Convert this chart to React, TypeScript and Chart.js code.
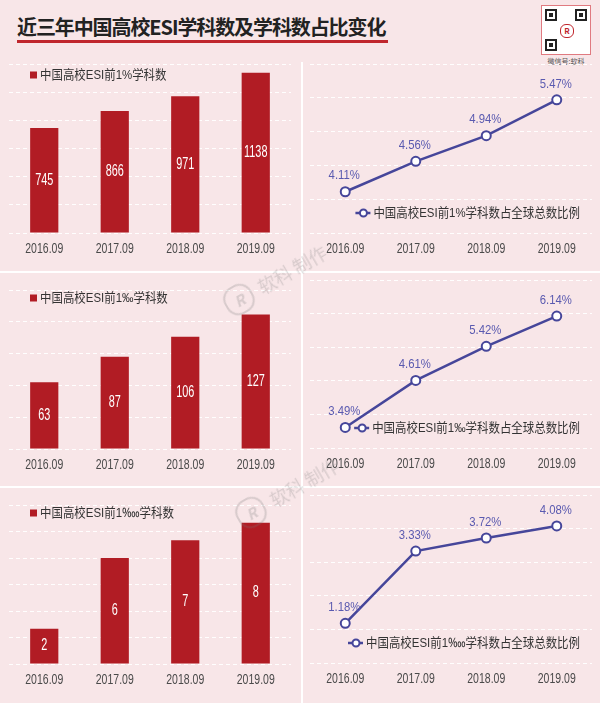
import React, { useEffect, useRef } from 'react';
import { Chart, registerables } from 'chart.js';

Chart.register(...registerables);

// ---------- data ----------
const categories = ['2016.09', '2017.09', '2018.09', '2019.09'];

const top1Counts = [745, 866, 971, 1138];
const top1PermilleCounts = [63, 87, 106, 127];
const top1PermyriadCounts = [2, 6, 7, 8];

const top1Share = [4.11, 4.56, 4.94, 5.47];
const top1PermilleShare = [3.49, 4.61, 5.42, 6.14];
const top1PermyriadShare = [1.18, 3.33, 3.72, 4.08];

const countLabels = ['中国高校ESI前1%学科数', '中国高校ESI前1‰学科数', '中国高校ESI前1‱学科数'];
const shareLabels = [
  '中国高校ESI前1%学科数占全球总数比例',
  '中国高校ESI前1‰学科数占全球总数比例',
  '中国高校ESI前1‱学科数占全球总数比例',
];

const countAxisMin = [0, 0, 0];
const countAxisMax = [1200, 150, 9];
const countAxisStep = [200, 30, 1.5];
const shareAxisMin = [3.5, 3, 0];
const shareAxisMax = [6, 7, 5];
const shareAxisStep = [0.5, 0.8, 1];

// ---------- style ----------
const LATIN = "'Liberation Sans', Arial, 'Noto Sans CJK SC', sans-serif";
const BG = '#f8e6e8';
const BAR = '#b11c24';
const LINE = '#46469a';
const LINE_LABEL = '#5a5ab0';
const GRID = 'rgba(255,255,255,0.95)';

function drawScaled(
  ctx: CanvasRenderingContext2D,
  text: string,
  x: number,
  y: number,
  sx: number,
  align: CanvasTextAlign
) {
  ctx.save();
  ctx.translate(x, y);
  ctx.scale(sx, 1);
  ctx.textAlign = align;
  ctx.textBaseline = 'middle';
  ctx.fillText(text, 0, 0);
  ctx.restore();
}

const overlayPlugin = {
  id: 'overlay',
  afterDatasetsDraw(chart: any, _args: any, opts: any) {
    const ctx = chart.ctx as CanvasRenderingContext2D;
    const meta = chart.getDatasetMeta(0);
    const data = chart.data.datasets[0].data as number[];
    const xScale = chart.scales.x;
    const area = chart.chartArea;
    ctx.save();

    // category labels along the x scale
    ctx.font = `15px ${LATIN}`;
    ctx.fillStyle = '#4a4a4a';
    (chart.data.labels as string[]).forEach((lab, i) => {
      drawScaled(ctx, lab, xScale.getPixelForTick(i), area.bottom + 16, 0.7, 'center');
    });

    if (opts.kind === 'bar') {
      ctx.font = `16px ${LATIN}`;
      ctx.fillStyle = '#ffffff';
      meta.data.forEach((el: any, i: number) => {
        const p = el.getProps(['x', 'y', 'base'], true);
        drawScaled(ctx, String(data[i]), p.x, (p.y + p.base) / 2, 0.68, 'center');
      });
      // legend
      ctx.fillStyle = BAR;
      ctx.fillRect(opts.legendX, opts.legendY - 3.5, 7, 7);
      ctx.fillStyle = '#333';
      ctx.font = `13px ${LATIN}`;
      drawScaled(ctx, opts.label, opts.legendX + 10, opts.legendY, 0.88, 'left');
    } else {
      ctx.font = `13.5px ${LATIN}`;
      ctx.fillStyle = LINE_LABEL;
      meta.data.forEach((el: any, i: number) => {
        const p = el.getProps(['x', 'y'], true);
        drawScaled(ctx, data[i].toFixed(2) + '%', p.x - 1, p.y - 16, 0.84, 'center');
      });
      // legend
      ctx.font = `13px ${LATIN}`;
      const sx = 0.88;
      const w = ctx.measureText(opts.label).width * sx;
      const tx = opts.legendRight - w;
      ctx.fillStyle = '#333';
      drawScaled(ctx, opts.label, tx, opts.legendY, sx, 'left');
      ctx.strokeStyle = LINE;
      ctx.lineWidth = 2.5;
      ctx.beginPath();
      ctx.moveTo(tx - 18, opts.legendY);
      ctx.lineTo(tx - 3, opts.legendY);
      ctx.stroke();
      ctx.beginPath();
      ctx.arc(tx - 10, opts.legendY, 3.5, 0, Math.PI * 2);
      ctx.fillStyle = '#fff';
      ctx.fill();
      ctx.lineWidth = 2;
      ctx.stroke();
    }
    ctx.restore();
  },
};

function makeScales(min: number, max: number, step: number, axisH: number) {
  return {
    x: {
      offset: true,
      grid: { display: false },
      border: { display: false },
      ticks: { display: false },
      afterFit: (s: any) => {
        s.height = axisH;
      },
    },
    y: {
      min,
      max,
      grid: { color: GRID, lineWidth: 1, drawTicks: false },
      border: { display: false, dash: [4, 3] },
      ticks: { display: false, stepSize: step },
      afterFit: (s: any) => {
        s.width = 0;
      },
    },
  };
}

function barConfig(i: number, values: number[], padTop: number, axisH: number, legendY: number) {
  return {
    type: 'bar',
    data: {
      labels: categories,
      datasets: [
        {
          label: countLabels[i],
          data: values,
          backgroundColor: BAR,
          categoryPercentage: 1,
          barPercentage: 0.4,
        },
      ],
    },
    options: {
      animation: false,
      responsive: true,
      maintainAspectRatio: false,
      layout: { padding: { top: padTop, left: 9, right: 9, bottom: 0 } },
      plugins: {
        legend: { display: false },
        tooltip: { enabled: false },
        overlay: { kind: 'bar', label: countLabels[i], legendX: 30, legendY },
      },
      scales: makeScales(countAxisMin[i], countAxisMax[i], countAxisStep[i], axisH),
    },
    plugins: [overlayPlugin],
  };
}

function lineConfig(i: number, values: number[], padTop: number, axisH: number, legendY: number) {
  return {
    type: 'line',
    data: {
      labels: categories,
      datasets: [
        {
          label: shareLabels[i],
          data: values,
          borderColor: LINE,
          borderWidth: 2.5,
          pointRadius: 4.5,
          pointBorderWidth: 2,
          pointBackgroundColor: '#ffffff',
          pointBorderColor: LINE,
          tension: 0,
          clip: false,
        },
      ],
    },
    options: {
      animation: false,
      responsive: true,
      maintainAspectRatio: false,
      layout: { padding: { top: padTop, left: 8, right: 8, bottom: 0 } },
      plugins: {
        legend: { display: false },
        tooltip: { enabled: false },
        overlay: { kind: 'line', label: shareLabels[i], legendRight: 278, legendY },
      },
      scales: makeScales(shareAxisMin[i], shareAxisMax[i], shareAxisStep[i], axisH),
    },
    plugins: [overlayPlugin],
  };
}

function ChartBox(props: { left: number; top: number; width: number; height: number; config: any }) {
  const ref = useRef<HTMLCanvasElement>(null);
  useEffect(() => {
    const chart = new Chart(ref.current as HTMLCanvasElement, props.config);
    return () => chart.destroy();
  }, []);
  return (
    <div style={{ position: 'absolute', left: props.left, top: props.top, width: props.width, height: props.height }}>
      <canvas ref={ref} />
    </div>
  );
}

function Watermark(props: { left: number; top: number }) {
  return (
    <div
      style={{
        position: 'absolute',
        left: props.left,
        top: props.top,
        transform: 'rotate(-30deg)',
        transformOrigin: 'left center',
        display: 'flex',
        alignItems: 'center',
        color: 'rgba(120,120,120,0.25)',
        fontFamily: "'Noto Sans CJK SC', sans-serif",
        fontSize: 18,
        whiteSpace: 'nowrap',
        pointerEvents: 'none',
      }}
    >
      <span
        style={{
          width: 26,
          height: 26,
          borderRadius: 13,
          border: '2px solid rgba(120,120,120,0.25)',
          display: 'inline-flex',
          alignItems: 'center',
          justifyContent: 'center',
          fontSize: 15,
          fontWeight: 700,
          marginRight: 8,
          fontStyle: 'italic',
        }}
      >
        R
      </span>
      软科 制作
    </div>
  );
}

export default function App() {
  return (
    <div
      style={{
        position: 'fixed',
        left: 0,
        top: 0,
        width: 600,
        height: 703,
        background: BG,
        overflow: 'hidden',
        fontFamily: "'Noto Sans CJK SC', sans-serif",
      }}
    >
      {/* title */}
      <div
        style={{
          position: 'absolute',
          left: 17,
          top: 14,
          fontSize: 20,
          fontWeight: 700,
          color: '#222',
          letterSpacing: -1.1,
          whiteSpace: 'nowrap',
          lineHeight: '26px',
        }}
      >
        近三年中国高校ESI学科数及学科数占比变化
      </div>
      <div style={{ position: 'absolute', left: 17, top: 40, width: 371, height: 3, background: '#c0262d' }} />

      {/* QR code placeholder */}
      <div
        style={{
          position: 'absolute',
          left: 541,
          top: 5,
          width: 48,
          height: 48,
          background: '#fff',
          border: '1px solid #e07a80',
        }}
      >
        {[
          [3, 3],
          [33, 3],
          [3, 33],
        ].map(([x, y], k) => (
          <div
            key={k}
            style={{
              position: 'absolute',
              left: x,
              top: y,
              width: 8,
              height: 8,
              border: '2px solid #222',
              background: '#fff',
            }}
          >
            <div style={{ position: 'absolute', left: 2, top: 2, width: 4, height: 4, background: '#222' }} />
          </div>
        ))}
        <div
          style={{
            position: 'absolute',
            left: 18,
            top: 18,
            width: 12,
            height: 12,
            borderRadius: 6,
            background: '#fff',
            border: '1px solid #c0262d',
            color: '#c0262d',
            fontSize: 8,
            lineHeight: '12px',
            textAlign: 'center',
            fontWeight: 700,
          }}
        >
          R
        </div>
      </div>
      <div
        style={{
          position: 'absolute',
          left: 541,
          top: 56,
          width: 50,
          textAlign: 'center',
          fontSize: 7,
          color: '#555',
          whiteSpace: 'nowrap',
        }}
      >
        微信号:软科
      </div>

      {/* separators */}
      <div style={{ position: 'absolute', left: 301, top: 62, width: 1.5, height: 641, background: '#fff' }} />
      <div style={{ position: 'absolute', left: 0, top: 271, width: 600, height: 1.5, background: '#fff' }} />
      <div style={{ position: 'absolute', left: 0, top: 486, width: 600, height: 1.5, background: '#fff' }} />

      {/* charts */}
      <ChartBox left={0} top={40} width={300} height={230} config={barConfig(0, top1Counts, 24, 37, 35)} />
      <ChartBox left={302} top={40} width={298} height={230} config={lineConfig(0, top1Share, 24, 37, 173)} />
      <ChartBox left={0} top={272} width={300} height={213} config={barConfig(1, top1PermilleCounts, 18, 36, 26)} />
      <ChartBox left={302} top={272} width={298} height={213} config={lineConfig(1, top1PermilleShare, 8, 37, 156)} />
      <ChartBox left={0} top={487} width={300} height={216} config={barConfig(2, top1PermyriadCounts, 18, 39, 26)} />
      <ChartBox left={302} top={487} width={298} height={216} config={lineConfig(2, top1PermyriadShare, 8, 40, 156)} />

      {/* watermarks */}
      <Watermark left={226} top={292} />
      <Watermark left={238} top={505} />
    </div>
  );
}
